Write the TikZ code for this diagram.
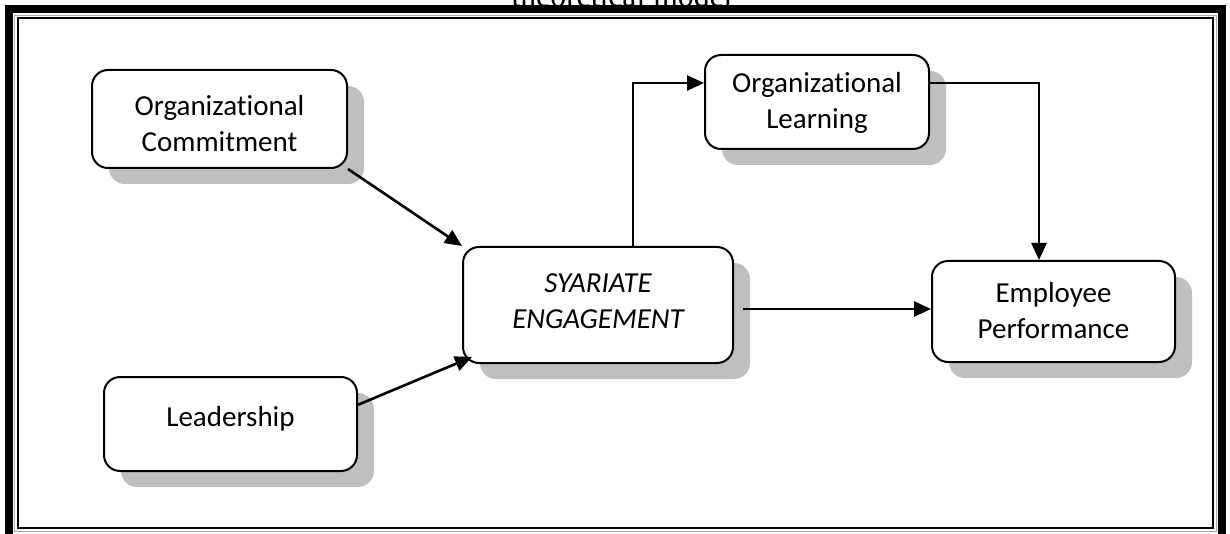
\documentclass[tikz,border=0pt]{standalone}
\usepackage{fontspec}
\setmainfont{Carlito}[Ligatures=NoCommon]
\newfontfamily\titlefont{Liberation Serif}
\usetikzlibrary{arrows.meta,calc}
\definecolor{shadowgray}{HTML}{BFBFBF}
\definecolor{rulegray}{HTML}{A6A6A6}
% shadowed rounded box with its text:
% name, left, top, right, bottom, text, vertical text offset
\newcommand\shadowbox[7]{%
  \fill[shadowgray, rounded corners=16pt] (#2+17,#3+16) rectangle (#4+17,#5+16);
  \node[box, minimum width=#4-#2, minimum height=#5-#3] (#1)
    at ({(#2+#4)/2},{(#3+#5)/2}) {};
  \node[boxtext] (#1-text) at ($(#1.center)+(0,#7)$) {#6};}
\begin{document}
\begin{tikzpicture}[x=1pt,y=-1pt,
  box/.style={draw=black, line width=2pt, rounded corners=16pt, fill=white, inner sep=0pt},
  boxtext/.style={align=center, inner sep=0pt, font=\fontsize{29}{36}\selectfont},
  link/.style={line width=2.6pt, -{Triangle[length=17pt,width=15pt]}}]
\useasboundingbox (0,0) rectangle (1230,534);

% page frame: thick outer rule, thin grey rule, thin inner rule
\draw[line width=8pt] (8.5,9) rectangle (1222,545);
\draw[line width=1pt, rulegray] (14.5,15.5) rectangle (1216,531);
\draw[line width=2pt] (17.5,18.5) rectangle (1213,528);

% caption above the frame
\node[anchor=base, inner sep=0pt, font=\titlefont\fontsize{31.7}{38}\selectfont]
  (title) at (622,6.5) {theoretical model};

% boxes
\shadowbox{OC}{92}{70}{347}{168}{Organizational\\Commitment}{5}
\shadowbox{L}{104}{377}{357}{471}{Leadership}{-5}
\shadowbox{SE}{463}{247}{733}{363}{\itshape SYARIATE\\\itshape ENGAGEMENT}{-4}
\shadowbox{OL}{705}{55}{929}{149}{Organizational\\Learning}{1}
\shadowbox{EP}{932}{261}{1175}{362}{Employee\\Performance}{-1}

% connectors
\coordinate (k1) at (633,83);
\coordinate (k2) at (1039,83);
\coordinate (k3) at (743,309);
\draw[link] (OC.south east) -- (SE.north west);
\draw[link] ($(L.north east)!0.3!(L.south east)$) -- ($(SE.south west)+(10,-7)$);
\draw[link] (k1 |- SE.north) -- (k1) -- (k1 -| OL.west);
\draw[link] (k2 -| OL.east) -- (k2) -- (k2 |- EP.north);
\draw[link] (k3) -- (k3 -| EP.west);
\end{tikzpicture}
\end{document}
